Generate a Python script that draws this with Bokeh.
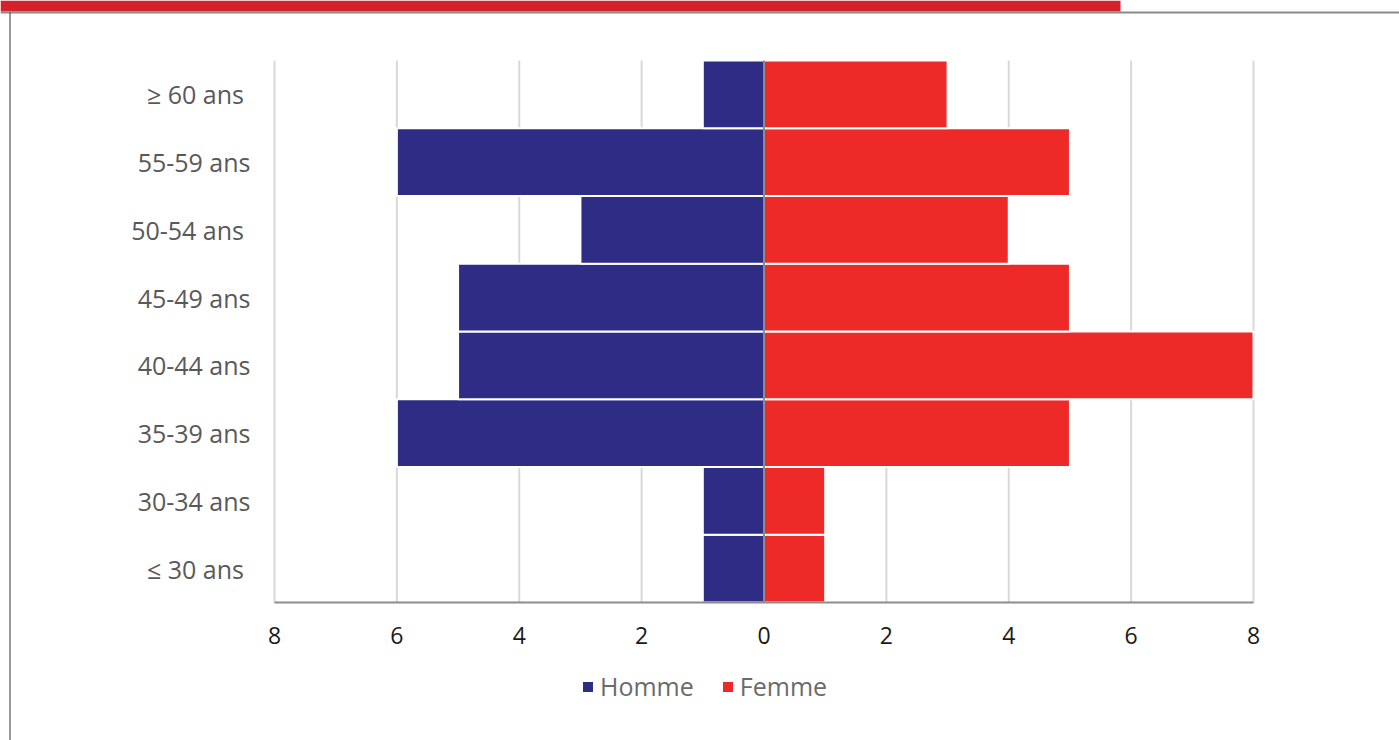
from bokeh.plotting import figure
from bokeh.models import (Range1d, BoxAnnotation, Legend, LegendItem,
                          FixedTicker, ColumnDataSource)
from bokeh.embed import file_html
from bokeh.resources import INLINE

# ---- data ----
age_groups = ["≤  30 ans", "30-34 ans", "35-39 ans", "40-44 ans",
              "45-49 ans", "50-54 ans ", "55-59 ans", "≥  60 ans"]
homme = [1, 1, 6, 5, 5, 3, 6, 1]
femme = [1, 1, 5, 8, 5, 4, 5, 3]
x_ticks = [-8, -6, -4, -2, 0, 2, 4, 6, 8]

NAVY = "#2e2c85"
RED = "#ee2a29"

# positions of the age bands on a numeric axis (centre of each band)
y_pos = [i + 0.5 for i in range(len(age_groups))]
n_groups = len(age_groups)

src = ColumnDataSource(dict(y=y_pos, homme=[-v for v in homme], femme=femme))

# frame covers the whole canvas; plot area spans px 274..1253 x 60..602
W, H = 1399, 740
PL, PR, PT, PB = 274, 1253, 60, 602
xs = (PR - PL) / (x_ticks[-1] - x_ticks[0])
x0 = PL + (0 - x_ticks[0]) * xs
ys = (PB - PT) / n_groups
x_range = Range1d(-x0 / xs, (W - x0) / xs)
y_range = Range1d(-(H - PB) / ys, n_groups + PT / ys)

p = figure(width=W, height=H, output_backend="svg", toolbar_location=None,
           x_range=x_range, y_range=y_range, min_border=0)
p.outline_line_color = None
p.background_fill_color = "white"
p.border_fill_color = "white"
p.grid.visible = False

# vertical grid lines limited to the plot area
p.segment(x0=x_ticks, y0=[0] * len(x_ticks), x1=x_ticks, y1=[n_groups] * len(x_ticks),
          line_color="#d9d9d9", line_width=2)

r_h = p.hbar(y="y", left="homme", right=0, height=1.0, source=src,
             fill_color=NAVY, line_color="white", line_width=2)
r_f = p.hbar(y="y", left=0, right="femme", height=1.0, source=src,
             fill_color=RED, line_color="white", line_width=2)

# zero line
p.segment(x0=[0], y0=[0], x1=[0], y1=[n_groups], line_color="#8c8c8c", line_width=2)

# x axis
xa = p.xaxis[0]
xa.fixed_location = 0
xa.bounds = (x_ticks[0], x_ticks[-1])
xa.ticker = FixedTicker(ticks=x_ticks)
xa.major_label_overrides = {t: str(abs(t)) for t in x_ticks}
xa.axis_line_color = "#8c8c8c"
xa.axis_line_width = 2
xa.major_tick_line_color = None
xa.minor_tick_line_color = None
xa.major_label_standoff = 18
xa.major_label_text_font = "Open Sans"
xa.major_label_text_font_size = "23px"
xa.major_label_text_color = "#1a1a1a"

# y axis
ya = p.yaxis[0]
ya.fixed_location = x_ticks[0]
ya.ticker = FixedTicker(ticks=y_pos)
ya.major_label_overrides = {y: lab for y, lab in zip(y_pos, age_groups)}
ya.axis_line_color = None
ya.major_tick_line_color = None
ya.minor_tick_line_color = None
ya.major_label_standoff = 18
ya.major_label_text_font = "Open Sans"
ya.major_label_text_font_size = "25px"
ya.major_label_text_color = "#595959"

# decorations: red banner, top rule, left border
def canvas_box(l, r, t, b, color):
    return BoxAnnotation(left=l, right=r, top=t, bottom=b,
                         left_units="canvas", right_units="canvas",
                         top_units="canvas", bottom_units="canvas",
                         fill_color=color, fill_alpha=1, line_color=None,
                         level="overlay")

p.add_layout(canvas_box(0, 1120, 0, 11, "#d3222a"))
p.add_layout(canvas_box(0, W, 11, 13, "#8a8a8a"))
p.add_layout(canvas_box(9, 10, 12, H, "#333333"))

legend = Legend(items=[LegendItem(label="Homme", renderers=[r_h]),
                       LegendItem(label="Femme", renderers=[r_f])],
                orientation="horizontal", location=(580, 37),
                glyph_width=15, glyph_height=15, label_standoff=5, spacing=26,
                padding=0, margin=0, border_line_color=None, background_fill_alpha=0,
                label_text_font="Open Sans", label_text_font_size="25px",
                label_text_color="#6b6b6b")
p.add_layout(legend, "center")

open("out.html", "w").write(file_html(p, INLINE))
